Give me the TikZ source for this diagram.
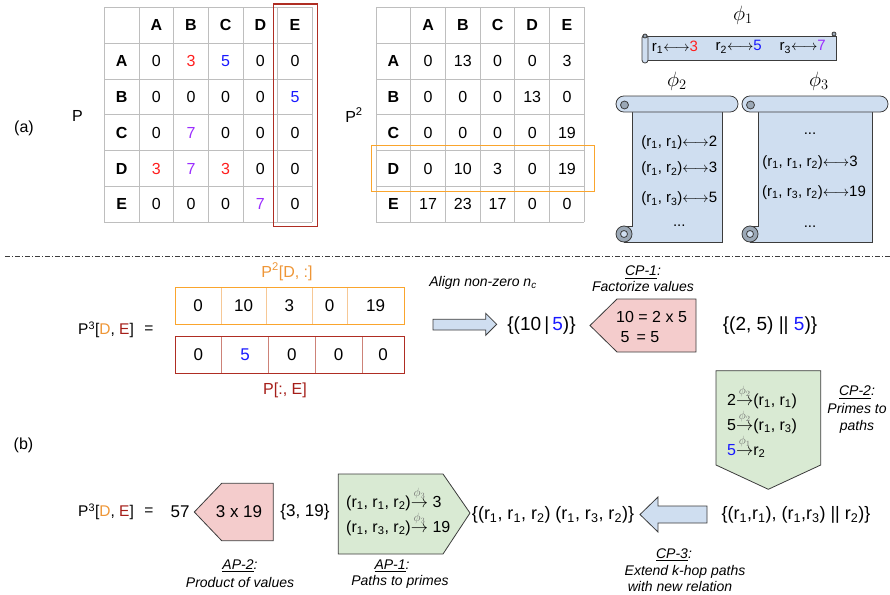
\documentclass[tikz,border=0pt]{standalone}
\usepackage{amsmath}
\usepackage{fontspec}
\setmainfont{Liberation Sans}
\definecolor{myred}{RGB}{255,30,30}
\definecolor{myblue}{RGB}{25,25,255}
\definecolor{myviolet}{RGB}{155,45,255}
\definecolor{gridgray}{RGB}{190,190,190}
\definecolor{boxred}{RGB}{175,45,35}
\definecolor{boxorange}{RGB}{250,165,45}
\definecolor{lightorange}{RGB}{246,200,150}
\definecolor{lightred}{RGB}{205,130,120}
\definecolor{txtorange}{RGB}{238,150,55}
\definecolor{txtred}{RGB}{165,30,25}
\definecolor{scrollblue}{RGB}{207,222,240}
\definecolor{curlgray}{RGB}{155,168,182}
\definecolor{pinkfill}{RGB}{244,204,204}
\definecolor{greenfill}{RGB}{217,234,211}
\definecolor{edgegray}{RGB}{60,60,60}
\definecolor{phgray}{RGB}{110,110,110}
\newcommand\cR{\color{myred}}
\newcommand\cB{\color{myblue}}
\newcommand\cV{\color{myviolet}}
\newcommand\lo[1]{\textsubscript{#1}}
\newcommand\phar[1]{$\overset{\mbox{\fontsize{12}{12}\selectfont\color{phgray}$\phi_{#1}$}}{\rightarrow}$}
\newcommand\lra{$\longleftrightarrow$}
\newcommand\vscroll[4]{%
  \draw[scrl] ({#1+16},{#2+8}) -- ({#3-16},{#2+8}) -- ({#3-16},{#4}) -- ({#1+8},{#4}) -- ({#1+8},{#4-16}) -- ({#1+16},{#4-16}) -- cycle;
  \draw[scrl,fill=curlgray] ({#1+8},{#4-8}) circle[radius=8];
  \draw[scrl] ({#1+8},{#4-8}) circle[radius=3.5];
  \draw[scrl,rounded corners=7.9] (#1,#2) rectangle (#3,{#2+16});
  \draw[scrl,fill=curlgray] ({#1+8.5},{#2+9}) circle[radius=4];
}
\begin{document}
\begin{tikzpicture}[x=1pt,y=-1pt,
  gridln/.style={draw=gridgray,line width=0.8pt},
  cell/.style={inner sep=0pt,font=\fontsize{16}{19}\selectfont},
  hdr/.style={inner sep=0pt,font=\fontsize{16}{19}\selectfont\bfseries},
  big/.style={inner sep=0pt,font=\fontsize{17}{20}\selectfont},
  eqs/.style={inner sep=0pt,font=\fontsize{15.5}{19}\selectfont},
  bigger/.style={inner sep=0pt,font=\fontsize{19}{22}\selectfont},
  scrtxt/.style={inner sep=0pt,font=\fontsize{15}{18}\selectfont},
  phil/.style={inner sep=0pt,font=\fontsize{20}{24}\selectfont},
  lab/.style={inner sep=0pt,align=center,font=\fontsize{14}{16}\selectfont\itshape},
  scrl/.style={draw=edgegray,line width=0.8pt,fill=scrollblue},
  shp/.style={draw=edgegray,line width=0.8pt},
]
\useasboundingbox (0,0) rectangle (890,594);

% ---------- (a) ----------
\node[cell] (la) at (24,128) {(a)};
\node[cell] (lP) at (77.5,116) {P};
\node[cell] (lP2) at (354,115) {P\textsuperscript{2}};

% table P
\foreach \i in {0,...,6}{
  \draw[gridln] ({104.3+34.67*\i},7.3) -- ({104.3+34.67*\i},222.3);
  \draw[gridln] (104.3,{7.3+35.83*\i}) -- (312.3,{7.3+35.83*\i});
}
\foreach \h [count=\c] in {A,B,C,D,E}{
  \node[hdr] (Ph\c) at ({104.3+34.67*(\c+0.5)},{7.3+35.83*0.5}) {\h};
  \node[hdr] (Pv\c) at ({104.3+34.67*0.5},{7.3+35.83*(\c+0.5)}) {\h};
}
\foreach \row [count=\r] in {{0,{\cR 3},{\cB 5},0,0},{0,0,0,0,{\cB 5}},{0,{\cV 7},0,0,0},{{\cR 3},{\cV 7},{\cR 3},0,0},{0,0,0,{\cV 7},0}}{
  \foreach \v [count=\c] in \row {
    \node[cell] (P\r-\c) at ({104.3+34.67*(\c+0.5)},{7.3+35.83*(\r+0.5)}) {\v};
  }
}
\draw[draw=boxred,line width=1.1pt] (273.3,4) rectangle (317.3,226.7);

% table P^2
\foreach \i in {0,...,6}{
  \draw[gridln] ({376+34.72*\i},7.3) -- ({376+34.72*\i},222.3);
  \draw[gridln] (376,{7.3+35.83*\i}) -- (584.3,{7.3+35.83*\i});
}
\foreach \h [count=\c] in {A,B,C,D,E}{
  \node[hdr] (Qh\c) at ({376+34.72*(\c+0.5)},{7.3+35.83*0.5}) {\h};
  \node[hdr] (Qv\c) at ({376+34.72*0.5},{7.3+35.83*(\c+0.5)}) {\h};
}
\foreach \row [count=\r] in {{0,13,0,0,3},{0,0,0,13,0},{0,0,0,0,19},{0,10,3,0,19},{17,23,17,0,0}}{
  \foreach \v [count=\c] in \row {
    \node[cell] (Q\r-\c) at ({376+34.72*(\c+0.5)},{7.3+35.83*(\r+0.5)}) {\v};
  }
}
\draw[draw=boxorange,line width=1.1pt] (371.3,145.3) rectangle (594.3,191.3);

% scroll phi1
\draw[scrl] (646,36) rectangle (836,60);
\draw[scrl,rounded corners=2.9] (642,35) rectangle (648,63);
\draw[scrl,fill=curlgray] (645,36) circle[radius=2];
\draw[scrl,fill=curlgray] (834,34) circle[radius=2];
\node[phil] (phi1) at (743,15) {$\phi_1$};
\node[scrtxt] (s11) at (675,47) {r\lo1\lra{\cR 3}};
\node[scrtxt] (s12) at (738.7,47) {r\lo2\lra{\cB 5}};
\node[scrtxt] (s13) at (802.7,47) {r\lo3\lra{\cV 7}};

% scroll phi2
\vscroll{616}{96}{738}{242}
\node[phil] (phi2) at (677,81) {$\phi_2$};
\node[scrtxt] (s21) at (679.3,142.3) {(r\lo1, r\lo1)\lra2};
\node[scrtxt] (s22) at (679.3,169) {(r\lo1, r\lo2)\lra3};
\node[scrtxt] (s23) at (679.3,199) {(r\lo1, r\lo3)\lra5};
\node[scrtxt] (s24) at (679.3,226) {...};

% scroll phi3
\vscroll{742}{96}{888}{242}
\node[phil] (phi3) at (819,81) {$\phi_3$};
\node[scrtxt] (s31) at (810,134) {...};
\node[scrtxt] (s32) at (810,162.3) {(r\lo1, r\lo1, r\lo2)\lra3};
\node[scrtxt] (s33) at (814,192.3) {(r\lo1, r\lo3, r\lo2)\lra19};
\node[scrtxt] (s34) at (810,227) {...};

% separator
\coordinate (sepL) at (5,256);
\coordinate (sepR) at (890,256);
\draw[draw=edgegray,line width=0.7pt,dash pattern=on 5pt off 2pt on 1pt off 2pt] (sepL) -- (sepR);

% ---------- (b) ----------
\node[cell] (lb) at (23.5,445) {(b)};

\node[eqs,anchor=west] (eq1) at (78,330) {P\textsuperscript{3}[{\color{txtorange}D}, {\color{txtred}E}]};
\node[eqs] (eq1s) at (149,330) {=};

% vectors
\node[cell,text=txtorange] (vtl) at (287,271.7) {P\textsuperscript{2}[D, :]};
\draw[draw=boxorange,line width=0.9pt] (175,287.7) rectangle (404,324);
\foreach \xx in {221,266.3,312.3,347} \draw[draw=lightorange,line width=0.9pt] (\xx,288.2) -- (\xx,323.5);
\foreach \v/\xx [count=\c] in {0/198,10/243.7,3/289.3,0/329.7,19/375.5}
  \node[big] (vt\c) at (\xx,305.8) {\v};
\draw[draw=boxred,line width=0.9pt] (175,336.7) rectangle (404,373.3);
\foreach \xx in {221.7,268.3,315.3,362} \draw[draw=lightred,line width=0.9pt] (\xx,337.2) -- (\xx,372.8);
\foreach \v/\xx [count=\c] in {0/198.3,{\cB 5}/245,0/291.8,0/338.7,0/383}
  \node[big] (vb\c) at (\xx,355) {\v};
\node[cell,text=txtred] (vbl) at (285,390) {P[:, E]};

% align arrow
\draw[shp,fill=scrollblue] (433,319.3) -- (485.7,319.3) -- (485.7,313.3) -- (496.7,324.3) -- (485.7,335.3) -- (485.7,330) -- (433,330) -- cycle;
\node[lab] (align) at (483,283) {Align non-zero n\textsubscript{c}};
\node[bigger] (set1) at (541.5,326) {\{(10\,|\,{\cB 5})\}};

% CP-1
\draw[shp,fill=pinkfill] (590,325.5) -- (617,299) -- (696,299) -- (696,352) -- (617,352) -- cycle;
\node[inner sep=0pt,anchor=west,align=left,font=\fontsize{16}{20}\selectfont] (cp1t) at (616,327) {10 = 2 x 5\\ \;5\;\,= 5};
\node[lab] (cp1l) at (643,279) {\underline{CP-1}:\\Factorize values};
\node[bigger] (set2) at (770,326) {\{(2, 5) || {\cB 5})\}};

% CP-2
\draw[shp,fill=greenfill] (716,370.7) -- (820.7,370.7) -- (820.7,465) -- (768.3,489.3) -- (716,465) -- cycle;
\node[inner sep=0pt,anchor=west,align=left,font=\fontsize{16}{23.3}\selectfont] (cp2t) at (727,421) {2\phar2(r\lo1, r\lo1)\\5\phar2(r\lo1, r\lo3)\\{\cB 5}\phar1r\lo2};
\node[lab,font=\fontsize{14}{17.5}\selectfont\itshape] (cp2l) at (857,410) {\underline{CP-2}:\\Primes to\\paths};

% bottom row
\node[eqs,anchor=west] (eq2) at (78,512) {P\textsuperscript{3}[{\color{txtorange}D}, {\color{txtred}E}]};
\node[eqs] (eq2s) at (149,512) {=};
\node[big] (r57) at (180,512) {57};
\draw[shp,fill=pinkfill] (194.3,512) -- (221.7,483.3) -- (273.3,483.3) -- (273.3,540.7) -- (221.7,540.7) -- cycle;
\node[big] (ap2t) at (239,512) {3 x 19};
\node[big] (set319) at (305,512) {\{3, 19\}};
\draw[shp,fill=greenfill] (338.3,474) -- (443,474) -- (470,513) -- (443,554) -- (338.3,554) -- cycle;
\node[inner sep=0pt,anchor=west,align=left,font=\fontsize{16}{21.5}\selectfont] (ap1t) at (346,511) {(r\lo1, r\lo1, r\lo2)\phar3 3\\(r\lo1, r\lo3, r\lo2)\phar3 19};
\node[lab] (ap2l) at (240,566) {\underline{AP-2}:};
\node[lab] (ap2m) at (240,582) {Product of values};
\node[lab] (ap1l) at (392,566) {\underline{AP-1}:};
\node[lab] (ap1m) at (400,582) {Paths to primes};

\node[inner sep=0pt,font=\fontsize{18}{21}\selectfont] (set3) at (553,515) {\{(r\lo1, r\lo1, r\lo2) (r\lo1, r\lo3, r\lo2)\}};
\draw[shp,fill=scrollblue] (640,514.5) -- (658,497) -- (658,506) -- (707,506) -- (707,523) -- (658,523) -- (658,532) -- cycle;
\node[inner sep=0pt,font=\fontsize{18}{21}\selectfont] (set4) at (796,515) {\{(r\lo1,r\lo1), (r\lo1,r\lo3) || r\lo2)\}};
\node[lab] (cp3l) at (674,555) {\underline{CP-3}:};
\node[lab] (cp3m) at (685,571.7) {Extend k-hop paths};
\node[lab] (cp3n) at (680,586.7) {with new relation};
\end{tikzpicture}
\end{document}
